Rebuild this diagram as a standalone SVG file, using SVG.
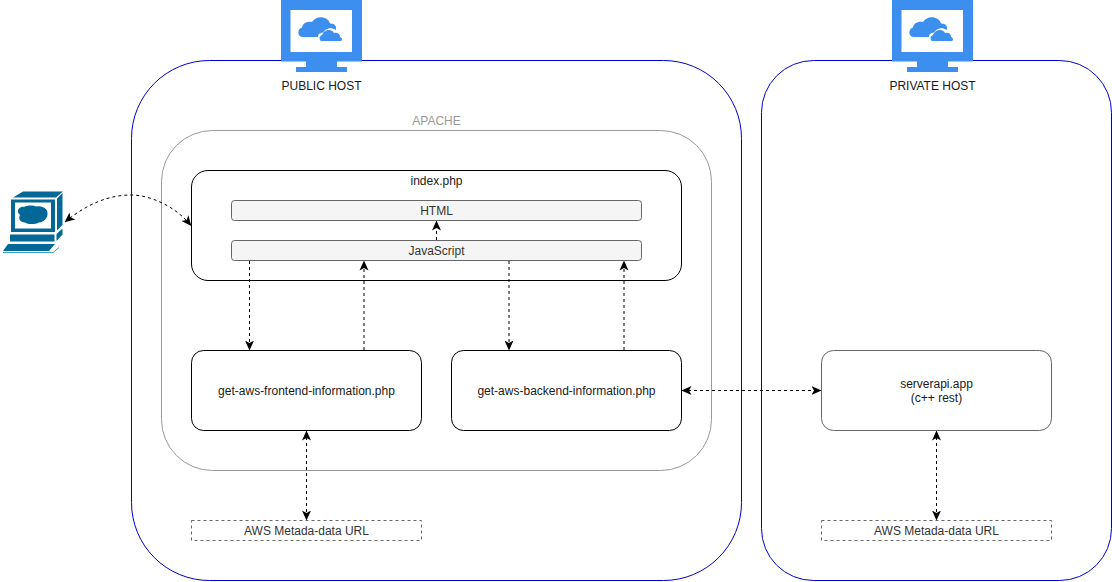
<svg xmlns="http://www.w3.org/2000/svg" width="1112" height="582" viewBox="0 0 1112 582">
<style>
text{font-family:"Liberation Sans",Arial,sans-serif;font-size:12px;text-anchor:middle;fill:#1a1a1a}
.host{fill:#fff;stroke:#0000cc;stroke-width:1}
.box{fill:#fff;stroke:#000;stroke-width:1}
.inner{fill:#f5f5f5;stroke:#666;stroke-width:1}
.dash{fill:#fff;stroke:#666;stroke-width:1;stroke-dasharray:3 3}
.c{fill:none;stroke:#000;stroke-width:1;stroke-dasharray:3 3}
.blue{fill:#3d8fef}
.teal{fill:#036897}
</style>
<defs>
<marker id="a" viewBox="0 0 10 10" refX="9.500" refY="5" markerWidth="10" markerHeight="10" markerUnits="userSpaceOnUse" orient="auto-start-reverse"><path d="M0 0.500L10 5L0 9.500L2.500 5Z" fill="#000"/></marker>
<g id="mon">
<path class="blue" d="M281 0H362V61.500H337V67H347V72H296V67H306V61.500H281Z"/>
<rect x="290.500" y="10" width="61.500" height="42" fill="#fff"/>
<path class="blue" d="M303 37C297 37 297 29 302 27.500C303 22 309 21 312 22C316 15 328 16 330 23.500C334 23 337 26 336 30C331 27 326 28 323 32.500C319 33 318 35 318 37Z"/>
<path class="blue" d="M321 41C319 40 319 36 322 35C324 30 331 28 334 33C338 32 340 34 340 37C343 38 342 41 341 41Z"/>
</g>
</defs>
<g id="public-host"><rect class="host" x="131.500" y="60.500" width="610" height="520" rx="78" ry="78"/></g>
<g id="private-host"><rect class="host" x="761.500" y="60.500" width="350" height="520" rx="52" ry="52"/></g>
<g id="public-icon"><use href="#mon"/><text x="321.500" y="90">PUBLIC HOST</text></g>
<g id="private-icon"><use href="#mon" x="611"/><text x="932.500" y="90">PRIVATE HOST</text></g>
<g id="apache"><rect x="161.500" y="130.500" width="550" height="340" rx="51" ry="51" fill="#fff" stroke="#999"/><text x="436.500" y="125" style="fill:#999">APACHE</text></g>
<g id="index"><rect class="box" x="191.500" y="170.500" width="490" height="110" rx="16.500" ry="16.500"/><text x="436.500" y="185">index.php</text></g>
<g id="html"><rect class="inner" x="231.500" y="200.500" width="410" height="20" rx="3" ry="3"/><text x="436.500" y="215" style="fill:#333">HTML</text></g>
<g id="javascript"><rect class="inner" x="231.500" y="240.500" width="410" height="20" rx="3" ry="3"/><text x="436.500" y="255" style="fill:#333">JavaScript</text></g>
<g id="frontend"><rect class="box" x="191.500" y="350.500" width="230" height="80" rx="12" ry="12"/><text x="306.500" y="395">get-aws-frontend-information.php</text></g>
<g id="backend"><rect class="box" x="451.500" y="350.500" width="230" height="80" rx="12" ry="12"/><text x="566.500" y="395">get-aws-backend-information.php</text></g>
<g id="serverapi"><rect x="821.500" y="350.500" width="230" height="80" rx="12" ry="12" fill="#fff" stroke="#666"/><text x="936.500" y="388">serverapi.app</text><text x="936.500" y="402">(c++ rest)</text></g>
<g id="metadata-public"><rect class="dash" x="191.500" y="520.500" width="230" height="20"/><text x="306.500" y="535" style="fill:#333">AWS Metada-data URL</text></g>
<g id="metadata-private"><rect class="dash" x="821.500" y="520.500" width="230" height="20"/><text x="936.500" y="535" style="fill:#333">AWS Metada-data URL</text></g>
<g id="client">
<path class="teal" d="M13 197.500L23 191.500H63L56 197.500Z"/>
<path class="teal" d="M57 198.500L62.500 193V225L57 230.500Z"/>
<path class="teal" fill-rule="evenodd" d="M11 199.500H55V232H11ZM15 202.500V228.500H51V202.500Z"/>
<path class="teal" d="M20 215C15 211 20 206 24 207C27 205 33 205 36 206.500C41 205.500 47.500 208 47.500 213C48 218 44 222 39 222.500C35 224.500 28 224.500 25 222.500C20 222 18 219 20 215Z"/>
<path class="teal" d="M10 234.500H54.500V241.500H10Z"/>
<path class="teal" d="M56.500 234L62.500 228.500V234.500L56.500 241Z"/>
<path class="teal" d="M8 244H55L49 251H3Z"/>
<path d="M3 252.500H53L59 247.500" fill="none" stroke="#3f9bc4" stroke-width="1"/>
</g>
<g id="connectors">
<path class="c" d="M65 222C88 203 110 195 131 195C150 195 175 206 191 225.500" marker-start="url(#a)" marker-end="url(#a)"/>
<path class="c" d="M436.500 240V221" marker-end="url(#a)"/>
<path class="c" d="M249.500 261V350" marker-end="url(#a)"/>
<path class="c" d="M364 350V261" marker-end="url(#a)"/>
<path class="c" d="M509 261V350" marker-end="url(#a)"/>
<path class="c" d="M624 350V261" marker-end="url(#a)"/>
<path class="c" d="M682 390.500H821" marker-start="url(#a)" marker-end="url(#a)"/>
<path class="c" d="M306.500 431V520" marker-start="url(#a)" marker-end="url(#a)"/>
<path class="c" d="M936.500 431V520" marker-start="url(#a)" marker-end="url(#a)"/>
</g>
</svg>
